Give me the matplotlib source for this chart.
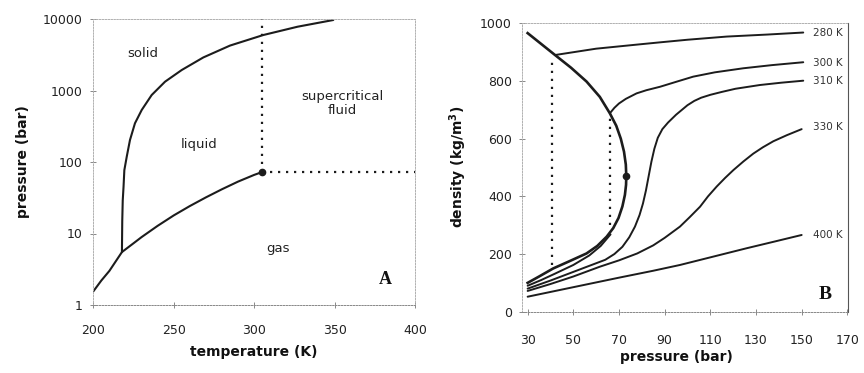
import matplotlib
matplotlib.use("Agg")
import matplotlib.pyplot as plt

# ---------------- Panel A data (phase diagram) ----------------
vap_T = [200, 205, 210, 217.8, 225, 230, 240, 250, 260, 270, 280, 290, 300, 304.7]
vap_P = [1.55, 2.2, 3.0, 5.5, 7.3, 8.9, 12.8, 17.9, 24.2, 32.0, 41.6, 53.2, 66.0, 72.0]
melt_T = [217.8, 218.0, 218.3, 218.8, 219.3, 220.8, 222.8, 225.9, 230.1, 236.3, 244.6, 255, 268.4, 285, 305.7, 327, 349.2]
melt_P = [5.5, 15, 29, 45, 77, 119, 203, 348, 534, 865, 1328, 1936, 2900, 4250, 5970, 7800, 9680]
crit_T = 304.7
crit_P = 72.0
a_yticks = [1, 10, 100, 1000, 10000]
a_xticks = [200, 250, 300, 350, 400]

# ---------------- Panel B data (density isotherms) ----------------
dome_p = [30, 36, 42, 49, 55.8, 61.6, 66, 68.8, 70.8, 72.2, 73.0, 73.2,
          73.1, 72.6, 71.5, 69.8, 67.5, 64.6, 60.5, 55.8, 48, 41.2, 35, 30]
dome_rho = [966, 928, 890, 846, 798, 745, 688, 645, 600, 555, 510, 470,
            440, 405, 365, 325, 290, 260, 228, 202, 174, 150, 122, 100]
crit_p = 73.2
crit_rho = 470
t280_p = [42, 60, 77.7, 88, 100, 117.2, 135, 150.7]
t280_rho = [890, 912, 926, 934, 943, 954, 961, 968]
t300_gas_p = [30, 36, 42, 50, 57, 62, 66.3]
t300_gas_rho = [90, 110, 132, 162, 195, 228, 268]
t300_liq_p = [66.0, 68, 70, 73, 77.7, 82, 88, 95, 102.5, 112, 124.4, 137, 150.7]
t300_liq_rho = [688, 707, 722, 738, 757, 768, 780, 797, 815, 830, 844, 855, 865]
t310_p = [30, 40, 50, 58, 64, 68, 71.5, 74.5, 77, 79, 80.5, 81.8, 83, 84.2, 85.5, 87, 89,
          91.5, 95, 100, 103, 106, 110, 115, 121, 131.7, 141, 150.7]
t310_rho = [80, 108, 138, 162, 180, 200, 225, 258, 295, 335, 375, 420, 470, 520, 565, 603, 633,
            656, 683, 716, 731, 742, 752, 762, 773, 786, 794, 801]
t330_p = [30, 40, 50, 61.6, 70, 78, 85, 90, 96.7, 101, 105.5, 109, 112.8, 116.5, 120.1,
          124.5, 128.8, 133, 137.6, 143.5, 150]
t330_rho = [72, 96, 122, 156, 178, 202, 230, 256, 295, 328, 364, 400, 434, 464, 491,
            521, 548, 570, 591, 612, 633]
t400_p = [30, 50, 70, 85, 96.7, 111.3, 125.9, 138, 150]
t400_rho = [52, 85, 118, 142, 162, 191, 220, 243, 266]
iso_labels = ["280 K", "300 K", "310 K", "330 K", "400 K"]
iso_label_rho = [966, 864, 800, 642, 266]
dot1_p = 40.5
dot1_rho = [162, 875]
dot2_p = 66.0
dot2_rho = [300, 675]
b_xticks = [30, 50, 70, 90, 110, 130, 150, 170]
b_yticks = [0, 200, 400, 600, 800, 1000]

plt.rcParams['font.family'] = ['DejaVu Sans']
LC = '#1c1c1c'
fig = plt.figure(figsize=(8.64, 3.73), dpi=100)


def style_frame(ax, right_dark=False):
    for name, sp in ax.spines.items():
        sp.set_color('#b0b0b0')
        sp.set_linewidth(0.7)
        sp.set_linestyle((0, (1.5, 1.5)))
    ax.spines['bottom'].set_color('#888888')
    if right_dark:
        ax.spines['right'].set_color('#555555')
        ax.spines['right'].set_linestyle('-')
        ax.spines['right'].set_linewidth(0.8)
    ax.tick_params(direction='inout', length=4, width=0.7, color='#888888',
                   labelsize=9, labelcolor='#222222')


# ---------------- Panel A ----------------
ax1 = fig.add_axes([93.3 / 864, 1 - 305 / 373, (415 - 93.3) / 864, (305 - 19) / 373])
ax1.set_yscale('log')
ax1.set_xlim(200, 400)
ax1.set_ylim(1, 10000)
ax1.plot(vap_T, vap_P, color=LC, lw=1.5, solid_capstyle='round', solid_joinstyle='round')
ax1.plot(melt_T, melt_P, color=LC, lw=1.5, solid_capstyle='round', solid_joinstyle='round')
ax1.plot([crit_T, crit_T], [crit_P, 10000], color=LC, lw=1.6, ls=(0, (1, 2.6)))
ax1.plot([crit_T, 400], [crit_P, crit_P], color=LC, lw=1.6, ls=(0, (1, 2.6)))
ax1.plot([crit_T], [crit_P], 'o', color=LC, ms=4.5)
ax1.set_xticks(a_xticks)
ax1.set_yticks(a_yticks)
ax1.set_yticklabels([str(v) for v in a_yticks])
ax1.minorticks_off()
style_frame(ax1)
ax1.tick_params(axis='x', pad=12)
ax1.tick_params(axis='y', pad=6)
ax1.text(231, 3300, 'solid', fontsize=9.5, ha='center', va='center', color='#222222')
ax1.text(266, 173, 'liquid', fontsize=9.5, ha='center', va='center', color='#222222')
ax1.text(354.6, 655, 'supercritical\nfluid', fontsize=9.5, ha='center', va='center',
         linespacing=1.05, color='#222222')
ax1.text(315, 6.2, 'gas', fontsize=9.5, ha='center', va='center', color='#222222')
ax1.text(381.4, 2.24, 'A', fontsize=13, ha='center', va='center', fontweight='bold',
         family=['Liberation Serif', 'DejaVu Serif'], color='#111111')
ax1.set_xlabel('temperature (K)', fontsize=10, fontweight='bold', va='center', color='#111111')
ax1.xaxis.set_label_coords(0.5, -0.164)
ax1.set_ylabel('pressure (bar)', fontsize=10, fontweight='bold', va='center', color='#111111')
ax1.yaxis.set_label_coords(-0.218, 0.5)

# ---------------- Panel B ----------------
ax2 = fig.add_axes([521.7 / 864, 1 - 311.7 / 373, (848 - 521.7) / 864, (311.7 - 23.3) / 373])
ax2.set_xlim(27.4, 170.3)
ax2.set_ylim(0, 1000)
kw = dict(color=LC, lw=1.4, solid_joinstyle='round', solid_capstyle='round')
ax2.plot(dome_p, dome_rho, color=LC, lw=1.9, solid_joinstyle='round')
ax2.plot([crit_p], [crit_rho], 'o', color=LC, ms=4.5)
ax2.plot(t280_p, t280_rho, **kw)
ax2.plot(t300_gas_p, t300_gas_rho, **kw)
ax2.plot(t300_liq_p, t300_liq_rho, **kw)
ax2.plot(t310_p, t310_rho, **kw)
ax2.plot(t330_p, t330_rho, **kw)
ax2.plot(t400_p, t400_rho, **kw)
ax2.plot([dot1_p, dot1_p], dot1_rho, color=LC, lw=1.6, ls=(0, (1, 2.6)))
ax2.plot([dot2_p, dot2_p], dot2_rho, color=LC, lw=1.6, ls=(0, (1, 2.6)))
for lab, r in zip(iso_labels, iso_label_rho):
    ax2.text(155.1, r, lab, fontsize=7.5, ha='left', va='center', color='#333333')
ax2.text(160.2, 58, 'B', fontsize=14, ha='center', va='center', fontweight='bold',
         family=['Liberation Serif', 'DejaVu Serif'], color='#111111')
ax2.set_xticks(b_xticks)
ax2.set_yticks(b_yticks)
style_frame(ax2, right_dark=True)
ax2.tick_params(axis='x', pad=14)
ax2.tick_params(axis='y', pad=5)
ax2.set_xlabel('pressure (bar)', fontsize=10, fontweight='bold', va='center', color='#111111')
ax2.xaxis.set_label_coords(0.475, -0.156)
ax2.set_ylabel('density (kg/m$^\\mathbf{3}$)', fontsize=10, fontweight='bold', va='center', color='#111111')
ax2.yaxis.set_label_coords(-0.194, 0.503)

fig.savefig('out.png', dpi=100)
